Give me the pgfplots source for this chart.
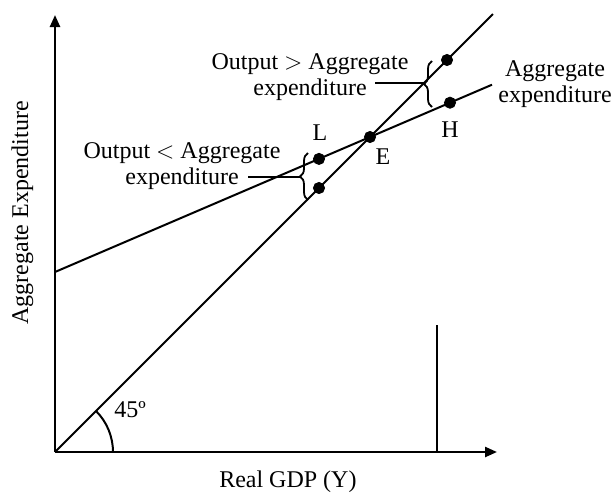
\documentclass[border=0pt,12pt]{standalone}
\usepackage{pgfplots}
\pgfplotsset{compat=1.18}
\usepackage{fontspec}
\setmainfont{Liberation Serif}
\usetikzlibrary{arrows.meta,decorations.pathreplacing}
\begin{document}
\begin{tikzpicture}
\begin{axis}[
  x=0.5pt, y=0.5pt,
  xmin=0, xmax=442, ymin=0, ymax=437,
  axis lines=left,
  axis line style={line width=1.2pt, -{Triangle[length=6pt,width=5pt]}},
  xtick=\empty, ytick=\empty,
  clip=false,
  xlabel={Real GDP (Y)},
  ylabel={Aggregate Expenditure},
  x label style={at={(axis description cs:0.527,-0.068)}, anchor=center},
  y label style={at={(axis description cs:-0.074,0.547)}, anchor=center, rotate=0},
]
% 45-degree line
\addplot[black, line width=1pt] coordinates {(0,0) (438,438)};
% Aggregate expenditure line
\addplot[black, line width=1pt] coordinates {(0,180) (437,367.3)};
% vertical line
\addplot[black, line width=1.3pt] coordinates {(382,0) (382,127)};
% points
\addplot[only marks, mark=*, mark size=2.8pt, black] coordinates {
  (315,315) (264,293.1) (264,264) (392,392) (395,349.3)};
% labels
\node at (axis cs:265,319) {L};
\node at (axis cs:328,295) {E};
\node at (axis cs:395,322) {H};
\node[align=center, font=\fontsize{12}{13}\selectfont] at (axis cs:255,375) {Output $>$ Aggregate\\expenditure};
\node[align=center, font=\fontsize{12}{13}\selectfont] at (axis cs:127,286) {Output $<$ Aggregate\\expenditure};
\node[align=center, font=\fontsize{12}{13}\selectfont] at (axis cs:500,368) {Aggregate\\expenditure};
\node at (axis cs:75,42) {45º};
% leaders
\draw[line width=1pt] (axis cs:320,369) -- (axis cs:369,369);
\draw[line width=1pt] (axis cs:193,275) -- (axis cs:245,275);
% braces
\draw[line width=0.9pt, decorate, decoration={brace, amplitude=4pt}] (axis cs:377,345) -- (axis cs:377,391);
\draw[line width=0.9pt, decorate, decoration={brace, amplitude=4pt}] (axis cs:253,252) -- (axis cs:253,299);
% angle arc
\draw[line width=1pt] (axis cs:58,0) arc[start angle=0, end angle=45, radius=29pt];
\coordinate (bl) at (axis cs:-55,-43);
\coordinate (tr) at (axis cs:556,452);
\end{axis}
\pgfresetboundingbox
\path[use as bounding box] (bl) rectangle (tr);
\end{tikzpicture}
\end{document}
